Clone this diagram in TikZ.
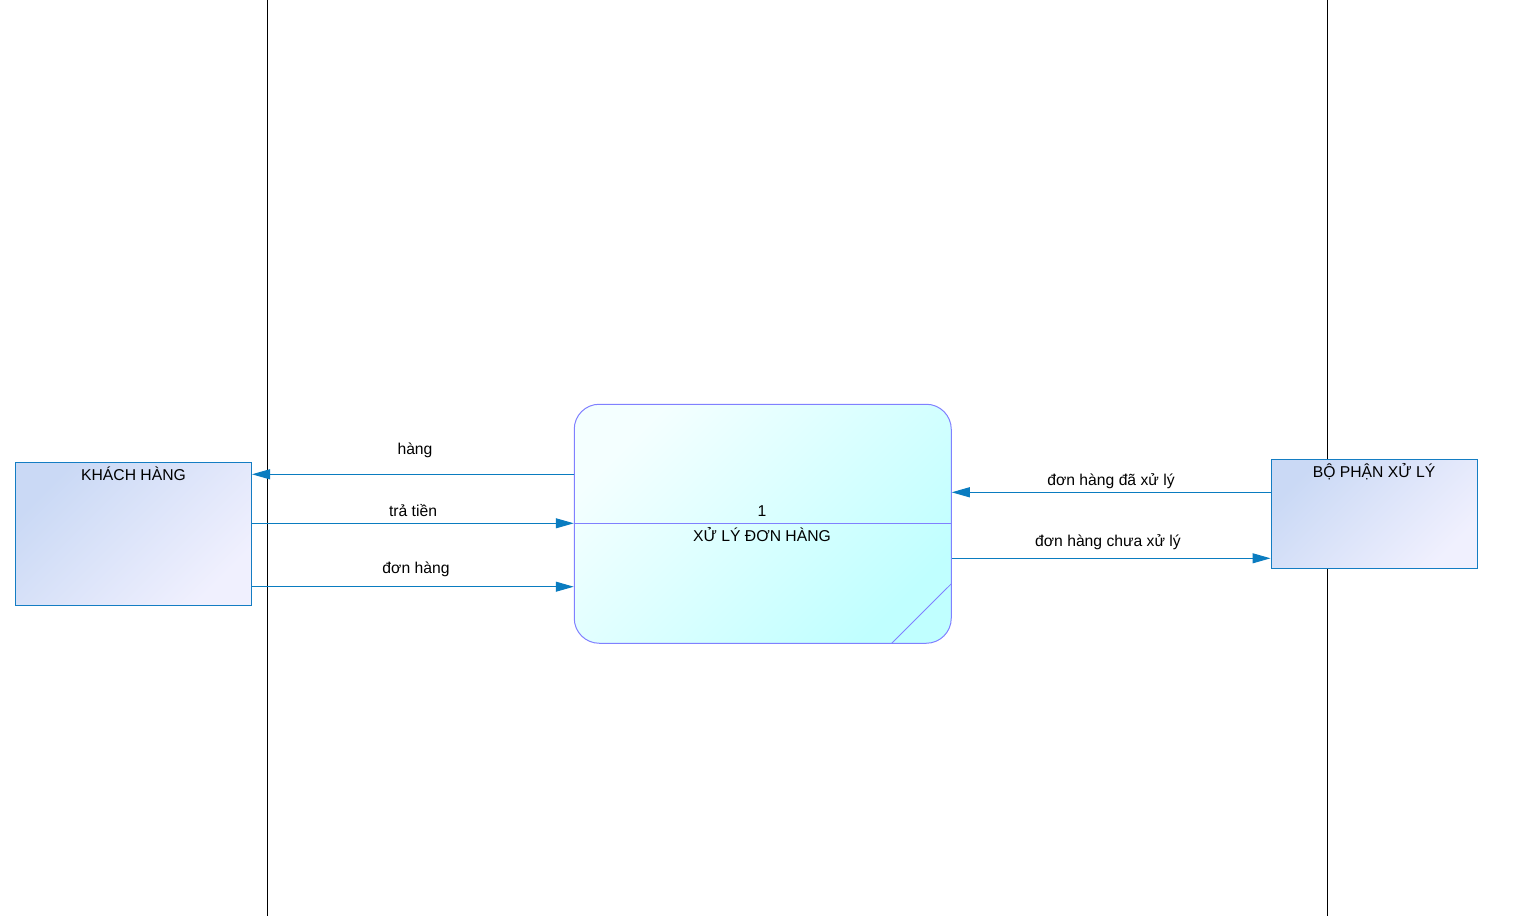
\documentclass[tikz,border=0pt]{standalone}
\usepackage{fontspec}
\setmainfont{Liberation Sans}
\usetikzlibrary{arrows.meta}
\definecolor{flowblue}{RGB}{10,124,192}
\definecolor{entborder}{RGB}{20,125,195}
\definecolor{entA}{RGB}{202,217,245}
\definecolor{entB}{RGB}{240,240,254}
\definecolor{procborder}{RGB}{128,128,255}
\definecolor{procA}{RGB}{244,255,255}
\definecolor{procB}{RGB}{192,255,255}
\tikzset{
  entity/.style={draw=entborder, line width=1pt, rectangle, inner sep=0pt,
    top color=entA, bottom color=entB, shading angle=45},
  process/.style={draw=procborder, line width=1pt, rectangle, rounded corners=25pt,
    inner sep=0pt, top color=procA, bottom color=procB, shading angle=45},
  lane/.style={draw=black, line width=1pt},
  flow/.style={draw=flowblue, line width=1pt, -{Triangle[length=18pt,width=10pt]}},
  txt/.style={font=\fontsize{15.7}{19}\selectfont, inner sep=0pt, anchor=base, text=black},
}
\begin{document}
\begin{tikzpicture}[x=1pt,y=-1pt]
\useasboundingbox[fill=white] (0,0) rectangle (1521,916);

% swimlane separators
\coordinate (l1t) at (267.5,0);
\coordinate (l1b) at (267.5,916);
\coordinate (l2t) at (1327.5,0);
\coordinate (l2b) at (1327.5,916);
\draw[lane] (l1t) -- (l1b);
\draw[lane] (l2t) -- (l2b);

% external entities
\node[entity, minimum width=236pt, minimum height=143pt] (kh) at (133.5,533.5) {};
\node[txt] (khlbl) at (133.5,480) {KHÁCH HÀNG};
\node[entity, minimum width=206pt, minimum height=109pt] (bp) at (1374,513.5) {};
\node[txt] (bplbl) at (1374,477) {BỘ PHẬN XỬ LÝ};

% process
\node[process, minimum width=377pt, minimum height=239pt] (proc) at (762.75,523.75) {};
\draw[procborder, line width=1pt] (proc.west |- 0,523.3) -- (proc.east |- 0,523.3);
\begin{scope}
  \clip[rounded corners=25pt] (proc.south west) rectangle (proc.north east);
  \draw[procborder, line width=0.8pt] (proc.east |- 0,583.3) -- (891.7,643.3);
\end{scope}
\node[txt] (pnum) at (762,516) {1};
\node[txt] (pname) at (762,541.5) {XỬ LÝ ĐƠN HÀNG};

% data flows
\draw[flow] (proc.west |- 0,474.3) -- (kh.east |- 0,474.3);
\node[txt] (f1) at (415,454) {hàng};
\draw[flow] (kh.east |- 0,523.3) -- (proc.west |- 0,523.3);
\node[txt] (f2) at (413,516) {trả tiền};
\draw[flow] (kh.east |- 0,586.7) -- (proc.west |- 0,586.7);
\node[txt] (f3) at (416,573) {đơn hàng};
\draw[flow] (bp.west |- 0,492.3) -- (proc.east |- 0,492.3);
\node[txt] (f4) at (1111,485) {đơn hàng đã xử lý};
\draw[flow] (proc.east |- 0,558.3) -- (bp.west |- 0,558.3);
\node[txt] (f5) at (1108,546) {đơn hàng chưa xử lý};
\end{tikzpicture}
\end{document}
